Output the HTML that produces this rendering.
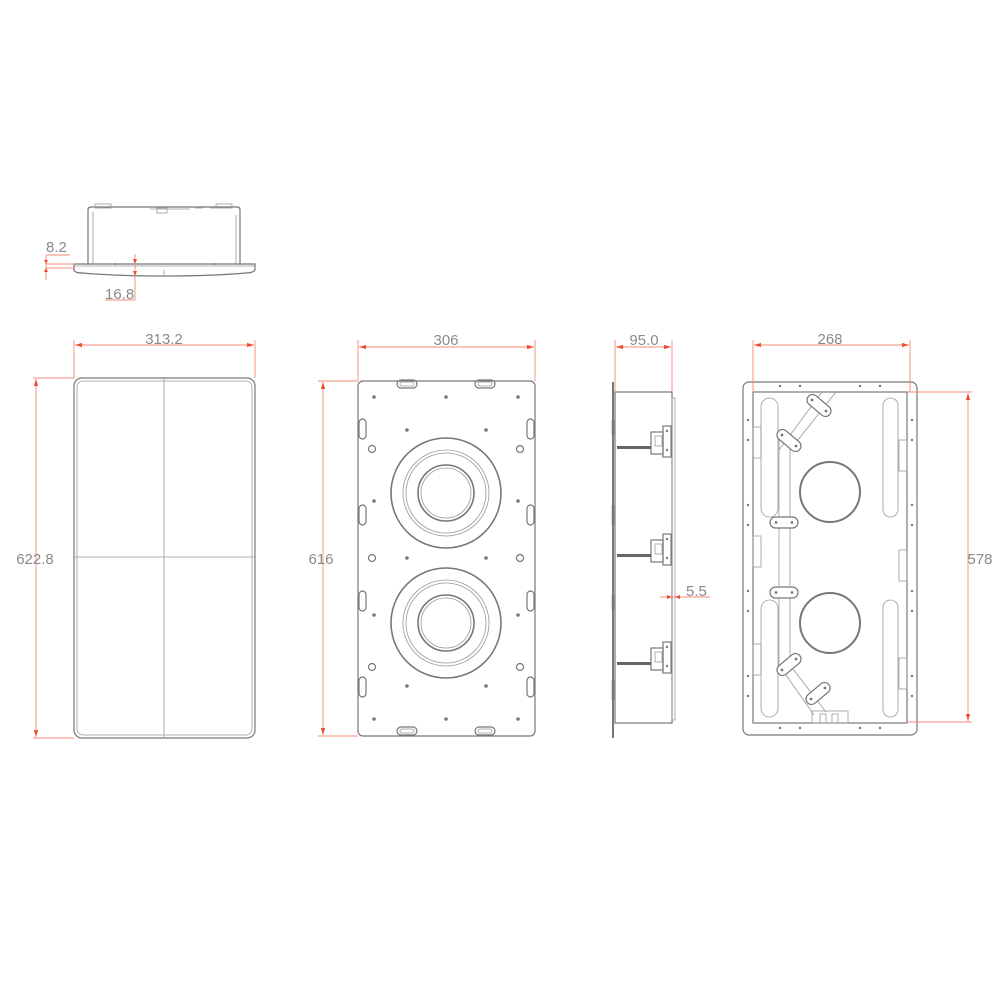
<!DOCTYPE html>
<html><head><meta charset="utf-8"><style>
html,body{margin:0;padding:0;background:#fff;}
svg{display:block}
text{font-family:"Liberation Sans",sans-serif;font-size:15px;fill:#8a8a8a;}
.l{fill:none;stroke:#777;stroke-width:1.2}
.t{fill:none;stroke:#999;stroke-width:0.8}
.d{fill:none;stroke:#f08a78;stroke-width:0.9}
.a{fill:#f04a30}
.dot{fill:#777}
</style></head><body>
<svg width="1000" height="1000" viewBox="0 0 1000 1000" xmlns="http://www.w3.org/2000/svg">
<defs>
<marker id="ar" viewBox="0 0 10 6" refX="10" refY="3" markerWidth="8" markerHeight="5" orient="auto-start-reverse"><path d="M0,0 L10,3 L0,6z" fill="#f04a30"/></marker>
</defs>

<!-- TOP VIEW -->
<g>
<path class="l" d="M88,265 V210 Q88,207 91,207 H237 Q240,207 240,210 V265"/>
<line class="t" x1="93" y1="212" x2="93" y2="264"/>
<line class="t" x1="236" y1="215" x2="236" y2="264"/>
<rect class="t" x="95" y="204" width="16" height="4"/>
<rect class="t" x="216" y="204" width="16" height="4"/>
<rect class="t" x="157" y="208" width="10" height="5"/>
<path class="t" d="M150,209 h40 M195,208 h8 M210,208 h6"/>
<path class="l" d="M74,264 H255 V270 Q253,273 246,273 Q210,276 164,276 Q118,276 82,273 Q75,273 74,270 Z"/>
<line class="t" x1="74" y1="266" x2="255" y2="266"/>
<line class="t" x1="164" y1="270" x2="164" y2="276"/>
<circle class="dot" cx="115" cy="264" r="1"/><circle class="dot" cx="214" cy="264" r="1"/>
<line class="d" x1="46" y1="264" x2="75" y2="264"/>
<line class="d" x1="46" y1="268" x2="75" y2="268"/>
<line class="d" x1="46" y1="255" x2="46" y2="280" />
<path class="a" d="M44,260 L46,264 L48,260z M44,272 L46,268 L48,272z"/>
<line class="d" x1="46" y1="255" x2="70" y2="255"/>
<text x="46" y="252">8.2</text>
<line class="d" x1="135" y1="254" x2="135" y2="300"/>
<path class="a" d="M133,259 L135,264 L137,259z M133,271 L135,276 L137,271z"/>
<line class="d" x1="105" y1="300" x2="135" y2="300"/>
<text x="105" y="299">16.8</text>
</g>

<!-- VIEW 1 front grille -->
<g>
<rect class="l" x="74" y="378" width="181" height="360" rx="8"/>
<rect class="t" x="77" y="381" width="175" height="354" rx="6"/>
<line class="t" x1="164" y1="378" x2="164" y2="738"/>
<line class="t" x1="74" y1="557" x2="255" y2="557"/>
<line class="d" x1="74" y1="340" x2="74" y2="378"/>
<line class="d" x1="255" y1="340" x2="255" y2="378"/>
<line class="d" x1="75" y1="345" x2="254" y2="345" marker-start="url(#ar)" marker-end="url(#ar)"/>
<text x="164" y="344" text-anchor="middle">313.2</text>
<line class="d" x1="33" y1="378" x2="74" y2="378"/>
<line class="d" x1="33" y1="738" x2="74" y2="738"/>
<line class="d" x1="36" y1="379" x2="36" y2="737" marker-start="url(#ar)" marker-end="url(#ar)"/>
<text x="35" y="564" text-anchor="middle">622.8</text>
</g>

<!-- VIEW 2 baffle -->
<g>
<rect class="l" x="358" y="381" width="177" height="355" rx="5"/>
<g id="slotsH">
<rect class="l" x="397" y="380" width="20" height="8" rx="4"/>
<rect class="t" x="400" y="382" width="14" height="4" rx="2"/>
<rect class="l" x="475" y="380" width="20" height="8" rx="4"/>
<rect class="t" x="478" y="382" width="14" height="4" rx="2"/>
</g>
<use href="#slotsH" transform="translate(0,347)"/>
<g id="slotsV">
<rect class="l" x="359" y="419" width="7" height="20" rx="3.5"/>
<rect class="l" x="359" y="505" width="7" height="20" rx="3.5"/>
<rect class="l" x="359" y="591" width="7" height="20" rx="3.5"/>
<rect class="l" x="359" y="677" width="7" height="20" rx="3.5"/>
</g>
<use href="#slotsV" transform="translate(168,0)"/>
<g class="dot">
<circle cx="374" cy="397" r="1.8"/><circle cx="446" cy="397" r="1.8"/><circle cx="518" cy="397" r="1.8"/>
<circle cx="407" cy="430" r="1.8"/><circle cx="486" cy="430" r="1.8"/>
<circle cx="374" cy="501" r="1.8"/><circle cx="518" cy="501" r="1.8"/>
<circle cx="407" cy="558" r="1.8"/><circle cx="486" cy="558" r="1.8"/>
<circle cx="374" cy="615" r="1.8"/><circle cx="518" cy="615" r="1.8"/>
<circle cx="407" cy="686" r="1.8"/><circle cx="486" cy="686" r="1.8"/>
<circle cx="374" cy="719" r="1.8"/><circle cx="446" cy="719" r="1.8"/><circle cx="518" cy="719" r="1.8"/>
</g>
<g class="l">
<circle cx="372" cy="449" r="3.5"/><circle cx="520" cy="449" r="3.5"/>
<circle cx="372" cy="558" r="3.5"/><circle cx="520" cy="558" r="3.5"/>
<circle cx="372" cy="667" r="3.5"/><circle cx="520" cy="667" r="3.5"/>
</g>
<g id="drv">
<circle cx="446" cy="493" r="55" style="fill:none;stroke:#777;stroke-width:1.6"/>
<circle class="t" cx="446" cy="493" r="43"/>
<circle class="t" cx="446" cy="493" r="40"/>
<circle class="l" cx="446" cy="493" r="28" style="stroke-width:1.6"/>
<circle class="t" cx="446" cy="493" r="25"/>
</g>
<use href="#drv" transform="translate(0,130)"/>
<line class="d" x1="358" y1="340" x2="358" y2="381"/>
<line class="d" x1="535" y1="340" x2="535" y2="381"/>
<line class="d" x1="359" y1="347" x2="534" y2="347" marker-start="url(#ar)" marker-end="url(#ar)"/>
<text x="446" y="345" text-anchor="middle">306</text>
<line class="d" x1="318" y1="381" x2="358" y2="381"/>
<line class="d" x1="318" y1="736" x2="358" y2="736"/>
<line class="d" x1="323" y1="382" x2="323" y2="735" marker-start="url(#ar)" marker-end="url(#ar)"/>
<text x="321" y="564" text-anchor="middle">616</text>
</g>

<!-- VIEW 3 side -->
<g>
<line class="l" x1="613" y1="382" x2="613" y2="738" style="stroke-width:2"/>
<rect class="l" x="615" y="392" width="57" height="331"/>
<rect class="t" x="672" y="398" width="3" height="322"/>
<g class="l" style="stroke-width:2.5">
<line x1="613" y1="420" x2="613" y2="435"/><line x1="613" y1="505" x2="613" y2="525"/>
<line x1="613" y1="595" x2="613" y2="610"/><line x1="613" y1="680" x2="613" y2="700"/>
</g>
<g id="br">
<rect class="l" x="663" y="426" width="8" height="31"/>
<rect class="l" x="651" y="432" width="12" height="22"/>
<rect class="t" x="655" y="436" width="7" height="10"/>
<rect x="617" y="446" width="34" height="3" fill="#666"/>
<circle class="dot" cx="667" cy="431" r="1.2"/><circle class="dot" cx="667" cy="450" r="1.2"/>
</g>
<use href="#br" transform="translate(0,108)"/>
<use href="#br" transform="translate(0,216)"/>
<line class="d" x1="615" y1="340" x2="615" y2="392"/>
<line class="d" x1="672" y1="340" x2="672" y2="392"/>
<line class="d" x1="616" y1="347" x2="671" y2="347" marker-start="url(#ar)" marker-end="url(#ar)"/>
<text x="644" y="345" text-anchor="middle">95.0</text>
<line class="d" x1="660" y1="597" x2="710" y2="597"/>
<path class="a" d="M667,595 L672,597 L667,599z M680,595 L675,597 L680,599z"/>
<text x="686" y="596">5.5</text>
</g>

<!-- VIEW 4 back -->
<g>
<rect class="l" x="743" y="382" width="174" height="353" rx="6"/>
<rect class="l" x="753" y="392" width="154" height="331"/>
<g class="dot">
<circle cx="780" cy="386" r="1.2"/><circle cx="800" cy="386" r="1.2"/><circle cx="860" cy="386" r="1.2"/><circle cx="880" cy="386" r="1.2"/>
<circle cx="780" cy="728" r="1.2"/><circle cx="800" cy="728" r="1.2"/><circle cx="860" cy="728" r="1.2"/><circle cx="880" cy="728" r="1.2"/>
<circle cx="748" cy="420" r="1.2"/><circle cx="748" cy="440" r="1.2"/><circle cx="748" cy="505" r="1.2"/><circle cx="748" cy="525" r="1.2"/>
<circle cx="748" cy="591" r="1.2"/><circle cx="748" cy="611" r="1.2"/><circle cx="748" cy="676" r="1.2"/><circle cx="748" cy="696" r="1.2"/>
<circle cx="912" cy="420" r="1.2"/><circle cx="912" cy="440" r="1.2"/><circle cx="912" cy="505" r="1.2"/><circle cx="912" cy="525" r="1.2"/>
<circle cx="912" cy="591" r="1.2"/><circle cx="912" cy="611" r="1.2"/><circle cx="912" cy="676" r="1.2"/><circle cx="912" cy="696" r="1.2"/>
</g>
<rect class="t" x="761" y="398" width="17" height="119" rx="8.5"/>
<rect class="t" x="761" y="600" width="17" height="117" rx="8.5"/>
<rect class="t" x="883" y="398" width="15" height="119" rx="7.5"/>
<rect class="t" x="883" y="600" width="15" height="117" rx="7.5"/>
<circle cx="830" cy="492" r="30" style="fill:none;stroke:#777;stroke-width:2"/>
<circle cx="830" cy="623" r="30" style="fill:none;stroke:#777;stroke-width:2"/>
<g class="t">
<line x1="779" y1="440" x2="779" y2="670"/><line x1="790" y1="440" x2="790" y2="670"/>
<line x1="779" y1="450" x2="822" y2="392"/><line x1="790" y1="450" x2="836" y2="392"/>
<line x1="779" y1="665" x2="814" y2="715"/><line x1="790" y1="665" x2="826" y2="712"/>
</g>
<g class="l" style="fill:#fff">
<rect x="770" y="517" width="28" height="11" rx="5.5"/>
<rect x="770" y="587" width="28" height="11" rx="5.5"/>
<rect x="805" y="400" width="28" height="11" rx="5.5" transform="rotate(40 819 405.5)"/>
<rect x="775" y="435" width="28" height="11" rx="5.5" transform="rotate(40 789 440.5)"/>
<rect x="775" y="659" width="28" height="11" rx="5.5" transform="rotate(-40 789 664.5)"/>
<rect x="804" y="688" width="28" height="11" rx="5.5" transform="rotate(-40 818 693.5)"/>
</g>
<g class="dot">
<circle cx="776" cy="522.5" r="1.4"/><circle cx="792" cy="522.5" r="1.4"/>
<circle cx="776" cy="592.5" r="1.4"/><circle cx="792" cy="592.5" r="1.4"/>
<circle cx="812" cy="400" r="1.4"/><circle cx="826" cy="411" r="1.4"/>
<circle cx="782" cy="435" r="1.4"/><circle cx="796" cy="446" r="1.4"/>
<circle cx="782" cy="670" r="1.4"/><circle cx="796" cy="659" r="1.4"/>
<circle cx="811" cy="699" r="1.4"/><circle cx="825" cy="688" r="1.4"/>
</g>
<g class="t">
<rect x="753" y="427" width="8" height="31"/><rect x="753" y="536" width="8" height="31"/><rect x="753" y="644" width="8" height="31"/>
<rect x="899" y="440" width="8" height="31"/><rect x="899" y="550" width="8" height="31"/><rect x="899" y="658" width="8" height="31"/>
<rect x="812" y="711" width="36" height="12"/>
<rect x="820" y="714" width="6" height="9"/><rect x="832" y="714" width="6" height="9"/>
</g>
<line class="d" x1="753" y1="340" x2="753" y2="392"/>
<line class="d" x1="910" y1="340" x2="910" y2="392"/>
<line class="d" x1="754" y1="345" x2="909" y2="345" marker-start="url(#ar)" marker-end="url(#ar)"/>
<text x="830" y="344" text-anchor="middle">268</text>
<line class="d" x1="907" y1="392" x2="972" y2="392"/>
<line class="d" x1="907" y1="722" x2="972" y2="722"/>
<line class="d" x1="968" y1="393" x2="968" y2="721" marker-start="url(#ar)" marker-end="url(#ar)"/>
<text x="980" y="564" text-anchor="middle">578</text>
</g>
</svg>
</body></html>
